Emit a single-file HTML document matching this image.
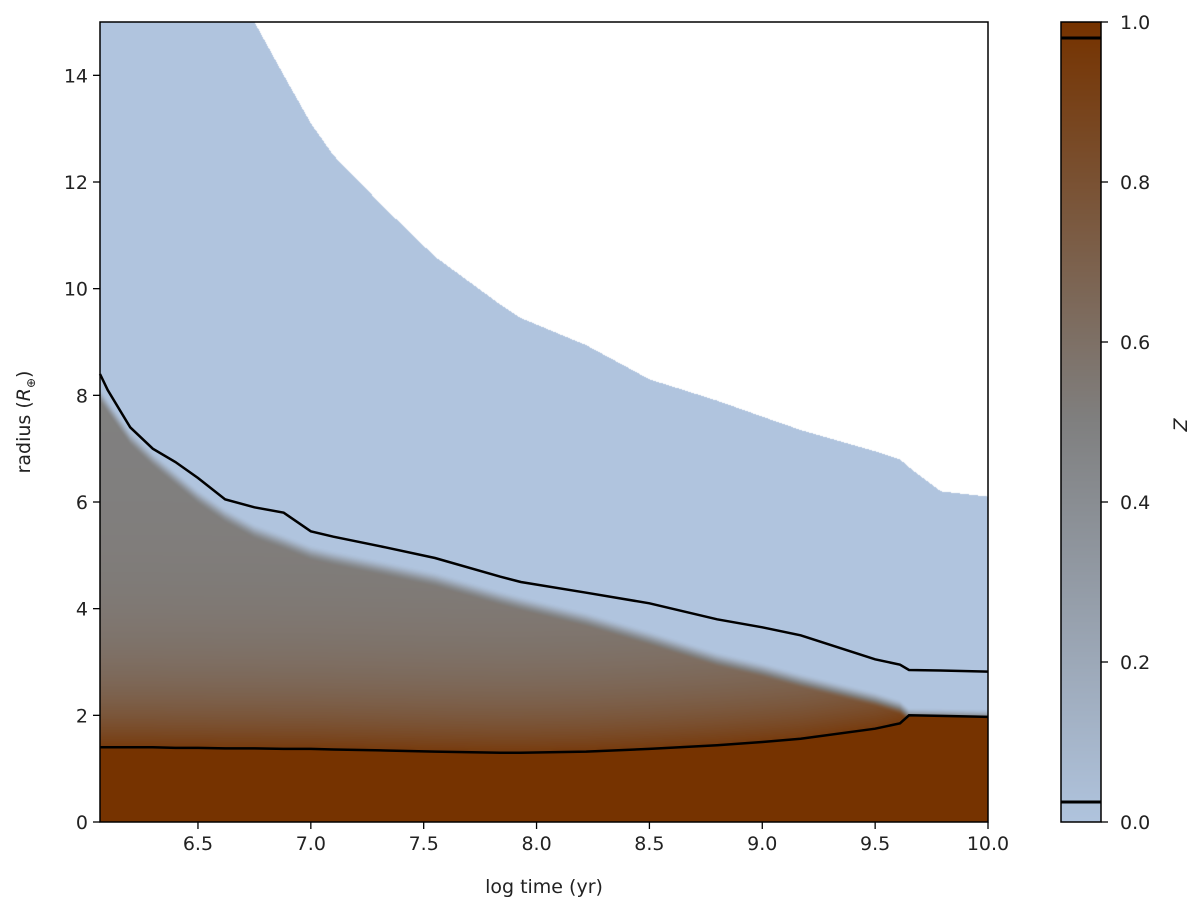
<!DOCTYPE html>
<html><head><meta charset="utf-8"><style>
body{margin:0;background:#fff;width:1200px;height:914px;overflow:hidden;font-family:"Liberation Sans","DejaVu Sans",sans-serif;}
svg text{font-family:"DejaVu Sans","Liberation Sans",sans-serif;}
</style></head><body>
<div style="position:relative;width:1200px;height:914px;">
<canvas id="plot" width="888" height="800" style="position:absolute;left:100px;top:22px;"></canvas>
<canvas id="cbar" width="40" height="800" style="position:absolute;left:1061px;top:22px;"></canvas>
<svg id="ov" width="1200" height="914" style="position:absolute;left:0;top:0;"></svg>
</div>
<script>
// data
const times = [6.066, 6.1, 6.2, 6.3, 6.4, 6.5, 6.62, 6.75, 6.88, 7.0, 7.1, 7.33, 7.55, 7.84, 7.93, 8.22, 8.5, 8.8, 9.0, 9.17, 9.5, 9.61, 9.65, 9.79, 10.0];
const outerR = [15, 15, 15, 15, 15, 15, 15, 15, 14.0, 13.1, 12.5, 11.5, 10.6, 9.7, 9.45, 8.94, 8.3, 7.9, 7.6, 7.35, 6.95, 6.8, 6.65, 6.2, 6.1];
const envR = [8.4, 8.1, 7.4, 7.0, 6.75, 6.45, 6.05, 5.9, 5.8, 5.45, 5.35, 5.15, 4.95, 4.6, 4.5, 4.3, 4.1, 3.8, 3.65, 3.5, 3.05, 2.95, 2.85, 2.84, 2.82];
const coreR = [1.4, 1.4, 1.4, 1.4, 1.39, 1.39, 1.38, 1.38, 1.37, 1.37, 1.36, 1.34, 1.32, 1.3, 1.3, 1.32, 1.37, 1.44, 1.5, 1.56, 1.75, 1.85, 2.0, 1.99, 1.97];
const gradTopR = [8.0, 7.8, 7.2, 6.8, 6.45, 6.1, 5.75, 5.45, 5.25, 5.05, 4.95, 4.75, 4.55, 4.2, 4.1, 3.8, 3.45, 3.05, 2.85, 2.65, 2.3, 2.15, 2.0, 1.99, 1.97];
const xTicks = [6.5, 7.0, 7.5, 8.0, 8.5, 9.0, 9.5, 10.0];
const yTicks = [0, 2, 4, 6, 8, 10, 12, 14];
const cTicks = [0.0, 0.2, 0.4, 0.6, 0.8, 1.0];
const cLines = [0.025, 0.98];

const X0=100, X1=988, Y0=22, Y1=822, XMIN=6.066, XMAX=10.0, YMIN=0, YMAX=15;
const sx = t => X0 + (t-XMIN)/(XMAX-XMIN)*(X1-X0);
const sy = r => Y1 - (r-YMIN)/(YMAX-YMIN)*(Y1-Y0);
const invx = px => XMIN + (px-X0)/(X1-X0)*(XMAX-XMIN);
const invy = py => YMIN + (Y1-py)/(Y1-Y0)*(YMAX-YMIN);
function interp(arr, t){
  if(t<=times[0]) return arr[0];
  for(let i=1;i<times.length;i++){ if(t<=times[i]){const f=(t-times[i-1])/(times[i]-times[i-1]);return arr[i-1]+f*(arr[i]-arr[i-1]);} }
  return arr[arr.length-1];
}
const cB=[176,196,222], cG=[128,128,128], cR=[118,51,0];
function cmap(z){
  let a,b,f;
  if(z<0.5){a=cB;b=cG;f=z/0.5;} else {a=cG;b=cR;f=(z-0.5)/0.5;}
  return [a[0]+(b[0]-a[0])*f, a[1]+(b[1]-a[1])*f, a[2]+(b[2]-a[2])*f];
}
// plot canvas
(function(){
  const cv=document.getElementById('plot'), ctx=cv.getContext('2d');
  const W=cv.width,H=cv.height, img=ctx.createImageData(W,H), d=img.data;
  for(let i=0;i<W;i++){
    const t=invx(X0+i+0.5);
    const ro=interp(outerR,t), rc=interp(coreR,t), rg=interp(gradTopR,t);
    for(let j=0;j<H;j++){
      const r=invy(Y0+j+0.5); const k=(j*W+i)*4; let c;
      if(r>ro){c=[255,255,255];}
      else if(r<=rc){c=cR;}
      else {
        let z=0.5+0.45*Math.exp(-(r-rc)/1.2);
        const w=0.3; let f=(rg+w/2-r)/w; f=Math.max(0,Math.min(1,f)); f=f*f*(3-2*f);
        z*=f; c=cmap(z);
      }
      d[k]=c[0];d[k+1]=c[1];d[k+2]=c[2];d[k+3]=255;
    }
  }
  ctx.putImageData(img,0,0);
})();
// colorbar
(function(){
  const cv=document.getElementById('cbar'), ctx=cv.getContext('2d');
  for(let j=0;j<800;j++){const c=cmap(1-(j+0.5)/800);ctx.fillStyle=`rgb(${c[0]|0},${c[1]|0},${c[2]|0})`;ctx.fillRect(0,j,40,1);}
})();
const NS='http://www.w3.org/2000/svg', ov=document.getElementById('ov');
function el(tag,attrs,txt){const e=document.createElementNS(NS,tag);for(const k in attrs)e.setAttribute(k,attrs[k]);if(txt!==undefined)e.textContent=txt;ov.appendChild(e);return e;}
function pathFrom(arr){return times.map((t,i)=>(i?'L':'M')+sx(t).toFixed(1)+','+sy(arr[i]).toFixed(1)).join(' ');}
let p=el('path',{d:pathFrom(envR),fill:'none',stroke:'#000','stroke-width':2.5});


p=el('path',{d:pathFrom(coreR),fill:'none',stroke:'#000','stroke-width':2.5});


let fr=el('rect',{x:X0,y:Y0,width:X1-X0,height:Y1-Y0,fill:'none',stroke:'#000','stroke-width':1.5});


xTicks.forEach(v=>{const x=sx(v);
  const l=el('line',{x1:x,x2:x,y1:Y1,y2:Y1+7,stroke:'#000','stroke-width':1.3});
  
  
  const t=el('text',{x:x,y:Y1+28,'font-size':19,'text-anchor':'middle',fill:'#222'},v.toFixed(1));
  
  
});
yTicks.forEach(v=>{const y=sy(v);
  const l=el('line',{x1:X0-7,x2:X0,y1:y,y2:y,stroke:'#000','stroke-width':1.3});
  
  
  const t=el('text',{x:X0-12,y:y+7,'font-size':19,'text-anchor':'end',fill:'#222'},String(v));
  
  
});
let xl=el('text',{x:544,y:893,'font-size':19,'text-anchor':'middle',fill:'#222'},'log time (yr)');


let yl=el('text',{x:0,y:0,'font-size':19,'text-anchor':'middle',fill:'#222',transform:'translate(30,422) rotate(-90)'});


yl.innerHTML='radius (<tspan font-style="italic">R</tspan><tspan font-size="12" dy="5">⊕</tspan><tspan dy="-5">)</tspan>';
// colorbar overlay
const CX0=1061,CX1=1101, cy=z=>Y1-z*(Y1-Y0);
cLines.forEach(z=>{const l=el('line',{x1:CX0,x2:CX1,y1:cy(z),y2:cy(z),stroke:'#000','stroke-width':3});
  
  });
let cf=el('rect',{x:CX0,y:Y0,width:CX1-CX0,height:Y1-Y0,fill:'none',stroke:'#000','stroke-width':1.5});


cTicks.forEach(v=>{const y=cy(v);
  const l=el('line',{x1:CX1,x2:CX1+7,y1:y,y2:y,stroke:'#000','stroke-width':1.3});
  
  
  const t=el('text',{x:CX1+19,y:y+7,'font-size':19,fill:'#222'},v.toFixed(1));
  
  
});
let zl=el('text',{x:0,y:0,'font-size':19,'font-style':'italic','text-anchor':'middle',fill:'#222',transform:'translate(1187,425) rotate(-90)'},'Z');


</script>
</body></html>
